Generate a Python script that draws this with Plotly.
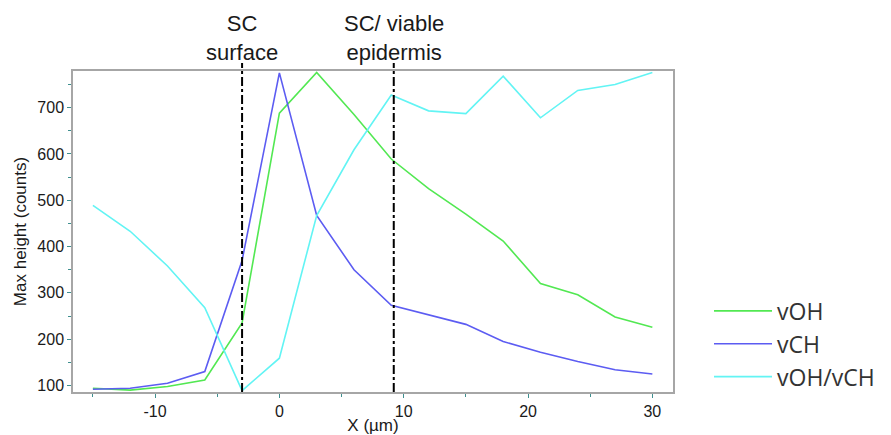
import plotly.graph_objects as go

# depth positions (µm)
x_um = [-15, -12, -9, -6, -3, 0, 3, 6, 9, 12, 15, 18, 21, 24, 27, 30]

v_oh = [94, 90, 98, 112, 235, 688, 776, 685, 589, 525, 470, 412, 320, 296, 248, 226]
v_ch = [92, 94, 105, 130, 370, 775, 467, 350, 273, 253, 232, 195, 172, 152, 134, 125]
v_ratio = [489, 433, 358, 268, 89, 159, 467, 609, 727, 693, 687, 768, 678, 737, 750, 776]

series_names = ["vOH", "vCH", "vOH/vCH"]
series_colors = ["#52e852", "#5c5cf2", "#62f4f4"]

boundary_x = [-3, 9.2]
boundary_labels = ["SC<br>surface", "SC/ viable<br>epidermis"]

x_ticks = [-10, 0, 10, 20, 30]
x_tick_text = ["-10", "0", "10", "20", "30"]
y_ticks = [100, 200, 300, 400, 500, 600, 700]

FONT = "Liberation Sans, Arial, sans-serif"
AXIS_COLOR = "#a6a6a6"
TICK_COLOR = "#3f8f8f"
TEXT_COLOR = "#1a1a1a"

fig = go.Figure()

for name, values, color in zip(series_names, [v_oh, v_ch, v_ratio], series_colors):
    fig.add_trace(
        go.Scatter(
            x=x_um,
            y=values,
            mode="lines",
            name=name,
            line=dict(color=color, width=1.6),
        )
    )

for bx, label in zip(boundary_x, boundary_labels):
    fig.add_shape(
        type="line",
        xref="x",
        yref="paper",
        x0=bx,
        x1=bx,
        y0=0,
        y1=1.025,
        line=dict(color="black", width=2, dash="dashdot"),
    )
    fig.add_annotation(
        x=bx,
        xref="x",
        y=1.0,
        yref="paper",
        yanchor="bottom",
        yshift=4,
        text=label,
        showarrow=False,
        font=dict(family=FONT, size=22, color=TEXT_COLOR),
    )

fig.update_xaxes(
    range=[-16.6, 31.66],
    tickvals=x_ticks,
    ticktext=x_tick_text,
    ticks="outside",
    ticklen=4,
    tickcolor=TICK_COLOR,
    minor=dict(dtick=10, tick0=-15, ticks="outside", ticklen=3, tickcolor=TICK_COLOR),
    showgrid=False,
    zeroline=False,
    showline=True,
    linecolor=AXIS_COLOR,
    linewidth=1.5,
    mirror=True,
    automargin=False,
    tickfont=dict(family=FONT, size=16, color=TEXT_COLOR),
    title=dict(text="X (µm)", font=dict(family=FONT, size=17, color=TEXT_COLOR), standoff=0),
)

fig.update_yaxes(
    range=[86, 779],
    tickvals=y_ticks,
    ticks="outside",
    ticklen=4,
    tickcolor=TICK_COLOR,
    minor=dict(dtick=100, tick0=50, ticks="outside", ticklen=3, tickcolor=TICK_COLOR),
    showgrid=False,
    zeroline=False,
    showline=True,
    linecolor=AXIS_COLOR,
    linewidth=1.5,
    mirror=True,
    automargin=False,
    tickfont=dict(family=FONT, size=16, color=TEXT_COLOR),
    title=dict(text="Max height (counts)", font=dict(family=FONT, size=17, color=TEXT_COLOR), standoff=6),
)

# the page body adds an 8 px offset, so the figure is 8 px smaller each way
fig.update_layout(
    width=883,
    height=427,
    margin=dict(l=65, r=218, t=63, b=43, autoexpand=False),
    paper_bgcolor="white",
    plot_bgcolor="white",
    showlegend=True,
    legend=dict(
        x=1.06,
        y=-0.02,
        xanchor="left",
        yanchor="bottom",
        font=dict(family="Open Sans, sans-serif", size=23, color="#333333"),
        itemwidth=58,
        tracegroupgap=0,
        bgcolor="rgba(0,0,0,0)",
    ),
)

fig.write_html("out.html")
